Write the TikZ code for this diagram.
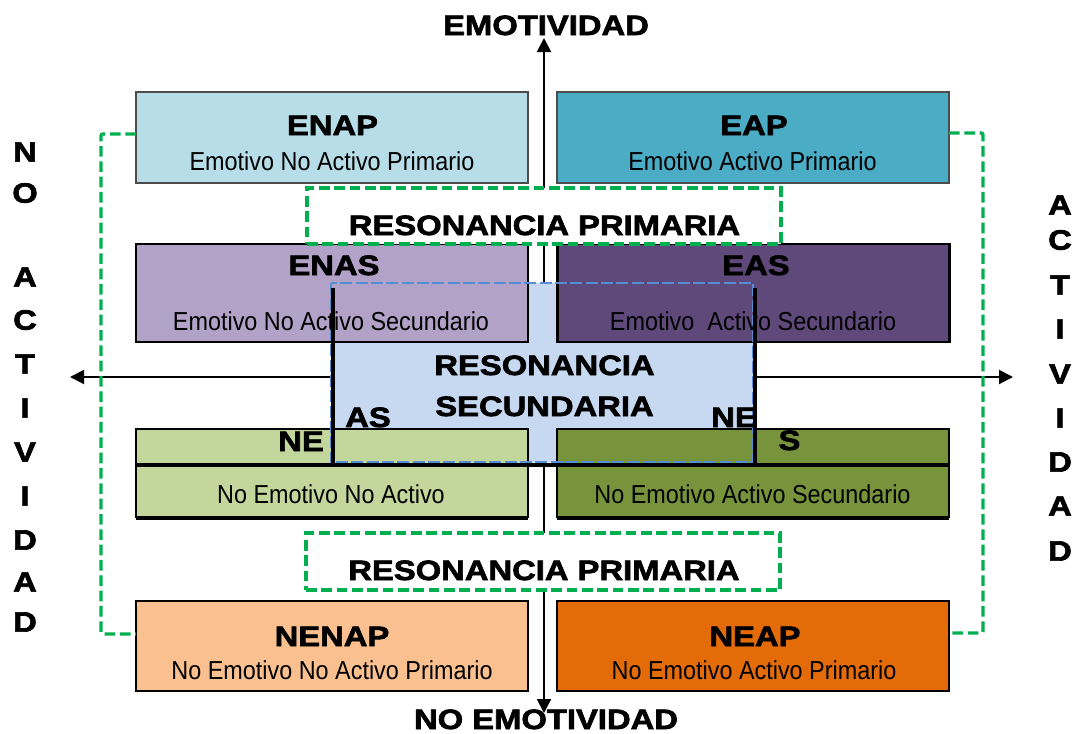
\documentclass[tikz,border=0pt]{standalone}
\usepackage{fontspec}
\setmainfont{Liberation Sans}
\newfontfamily\hb[FakeStretch=1.17,FakeBold=2.4]{Liberation Sans Bold}
\newfontfamily\nb[FakeStretch=0.9]{Liberation Sans}
\usetikzlibrary{arrows.meta}
\definecolor{cENAP}{HTML}{B7DDE8}
\definecolor{cEAP}{HTML}{4BACC6}
\definecolor{cENAS}{HTML}{B2A2C7}
\definecolor{cEAS}{HTML}{5F497A}
\definecolor{cNENA}{HTML}{C3D69B}
\definecolor{cNEAS}{HTML}{77933C}
\definecolor{cNENAP}{HTML}{FAC090}
\definecolor{cNEAP}{HTML}{E36C09}
\definecolor{cLB}{HTML}{C6D9F1}
\definecolor{cBlue}{HTML}{558ED5}
\definecolor{cGreen}{HTML}{00B050}
\begin{document}
\begin{tikzpicture}[x=0.75pt,y=-0.75pt,
  box/.style={draw, rectangle, inner sep=0pt, outer sep=0pt, minimum width=294pt},
  title/.style={font=\hb\fontsize{21}{25}\selectfont, anchor=base, inner sep=0pt},
  letter/.style={font=\hb\fontsize{21}{25}\selectfont, anchor=center, inner sep=0pt},
  body/.style={font=\nb\fontsize{19.5}{23}\selectfont, anchor=base, inner sep=0pt},
  gdash/.style={draw=cGreen, line width=2.6pt, dash pattern=on 8pt off 3.5pt},
  bdash/.style={draw=cBlue, line width=2.2pt, dash pattern=on 9pt off 2.5pt},
  axis/.style={line width=1.5pt, -{Triangle[length=10.5pt,width=10.5pt]}},
  thickline/.style={line width=2.3pt}
]
\useasboundingbox (0,0) rectangle (1072,733);

% axes
\coordinate (O) at (544,377);
\coordinate (tN) at (544,38);
\coordinate (tS) at (544,713);
\coordinate (tW) at (70,377);
\coordinate (tE) at (1013,377);
\draw[axis] (O) -- (tN);
\draw[axis] (O) -- (tS);
\draw[axis] (O) -- (tW);
\draw[axis] (O) -- (tE);

% secondary resonance fill
\node[rectangle, fill=cLB, inner sep=0pt, outer sep=0pt, minimum width=316.5pt, minimum height=134.25pt] (RS) at (542,372.5) {};

% boxes
\node[box, fill=cENAP, draw=black!70, line width=0.8pt, minimum height=68.25pt] (ENAP) at (332,137.5) {};
\node[box, fill=cEAP, draw=black!70, line width=0.8pt, minimum height=68.25pt] (EAP) at (753,137.5) {};
\node[box, fill=cENAS, line width=1.6pt, minimum height=73.5pt] (ENAS) at (332,293) {};
\node[box, fill=cEAS, line width=1.6pt, minimum height=73.5pt] (EAS) at (753.5,293) {};
\node[box, fill=cNENA, line width=1.6pt, minimum height=66pt] (NENA) at (332,473) {};
\node[box, fill=cNEAS, line width=1.6pt, minimum height=66pt] (NEAS) at (753,473) {};
\node[box, fill=cNENAP, line width=1.2pt, minimum height=67.5pt] (NENAP) at (332,646) {};
\node[box, fill=cNEAP, line width=1.2pt, minimum height=67.5pt] (NEAP) at (753,646) {};

% secondary resonance border
\draw[bdash] (RS.north west) rectangle (RS.south east);

% primary resonance boxes
\node[rectangle, fill=white, gdash, inner sep=0pt, minimum width=355.5pt, minimum height=42pt] (RP1) at (544,216) {};
\node[rectangle, fill=white, gdash, inner sep=0pt, minimum width=355.5pt, minimum height=42.75pt] (RP2) at (543,561.5) {};

% green side connectors
\draw[gdash, rounded corners=1.5pt] (ENAP.west |- 0,134) -- (101,134) -- (101,634) -- (NENAP.west |- 0,634);
\draw[gdash, rounded corners=1.5pt] (EAP.east |- 0,133) -- (983,133) -- (983,633) -- (NEAP.east |- 0,633);

% texts
\node[title] (tEmo) at (546,35) {EMOTIVIDAD};
\node[title] (tNoEmo) at (546,729) {NO EMOTIVIDAD};
\node[title] (tENAP) at (332.5,135) {ENAP};
\node[body] (bENAP) at (332,170) {Emotivo No Activo Primario};
\node[title] (tEAP) at (754,135) {EAP};
\node[body] (bEAP) at (752.5,170) {Emotivo Activo Primario};
\node[title] (tRP1) at (544.5,235) {RESONANCIA PRIMARIA};
\node[title] (tENAS) at (334,275) {ENAS};
\node[body] (bENAS) at (331,330) {Emotivo No Activo Secundario};
\node[title] (tEAS) at (756,275) {EAS};
\node[body] (bEAS) at (753,330) {Emotivo\ \ Activo Secundario};
\node[title] (tRS1) at (544.5,375) {RESONANCIA};
\node[title] (tRS2) at (544.5,416) {SECUNDARIA};
\node[title] (tAS) at (368,427) {AS};
\node[title] (tNE1) at (301,451) {NE};
\node[title] (tNE2) at (734,427) {NE};
\node[title] (tS) at (789.5,450) {S};
\node[body] (bNENA) at (331,503) {No Emotivo No Activo};
\node[body] (bNEAS) at (752.5,503) {No Emotivo Activo Secundario};
\node[title] (tRP2) at (544,580) {RESONANCIA PRIMARIA};
\node[title] (tNENAP) at (332,646) {NENAP};
\node[body] (bNENAP) at (332,679) {No Emotivo No Activo Primario};
\node[title] (tNEAP) at (755,646) {NEAP};
\node[body] (bNEAP) at (754,679) {No Emotivo Activo Primario};

% side letters
\foreach \l/\y [count=\i] in {N/152,O/193,A/277,C/320,T/364,I/408,V/452,I/496,D/540,A/582,D/622}
  \node[letter] (L\i) at (25,\y) {\l};
\foreach \l/\y [count=\i] in {A/205,C/240,T/285,I/329,V/374,I/418,D/462,A/506,D/551}
  \node[letter] (R\i) at (1060,\y) {\l};

% black structural lines
\coordinate (v1t) at (333,288);
\coordinate (v1b) at (333,465);
\coordinate (v2t) at (755,288);
\coordinate (v2b) at (755,465);
\draw[thickline] (v1t) -- (v1b);
\draw[thickline] (v2t) -- (v2b);
\draw[thickline] (NENA.west |- 0,465) -- (NEAS.east |- 0,465);
\draw[line width=1.1pt] (NENA.west |- 0,519) -- (NENA.east |- 0,519);
\draw[line width=1.1pt] (NEAS.west |- 0,519) -- (NEAS.east |- 0,519);
\end{tikzpicture}
\end{document}
